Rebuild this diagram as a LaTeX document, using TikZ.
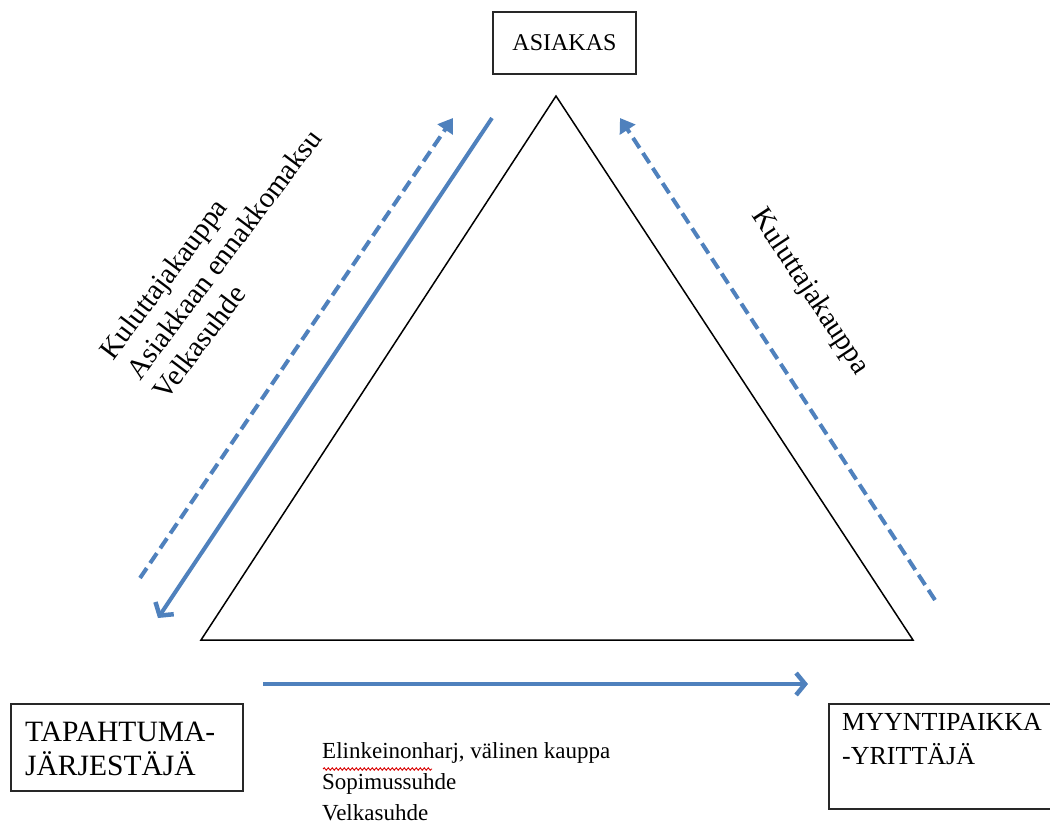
\documentclass[tikz,border=0pt]{standalone}
\usepackage{fontspec}
\setmainfont{Liberation Serif}
\usetikzlibrary{arrows.meta,decorations.pathmorphing}
\definecolor{arrowblue}{RGB}{79,129,189}
\definecolor{boxline}{RGB}{40,40,40}
\begin{document}
\begin{tikzpicture}[x=1pt,y=-1pt,
  box/.style={draw=boxline,line width=1.8pt,rectangle,inner sep=0pt},
  flow/.style={draw=arrowblue,line width=4pt},
  flowdash/.style={flow,dash pattern=on 12pt off 6pt},
  solidtip/.style={-{Straight Barb[length=9pt,width=22pt,line width=4.5pt]}},
  dashtip/.style={-{Triangle[length=14pt,width=18pt]}},
  lbl/.style={inner sep=0pt,align=left},
  rot/.style={inner sep=0pt,font=\fontsize{29}{33.5}\selectfont}]
\useasboundingbox (0,0) rectangle (1050,831);
\clip (0,0) rectangle (1050,831);
\fill[white] (0,0) rectangle (1050,831);

% boxes
\node[box,minimum width=143pt,minimum height=62pt,font=\fontsize{24}{28}\selectfont] (asiakas) at (564.5,43) {ASIAKAS};
\node[box,anchor=north west,minimum width=232pt,minimum height=87pt] (tapbox) at (10,703) {};
\node[lbl,anchor=west,font=\fontsize{29.5}{34}\selectfont] (taptext) at ([xshift=15pt,yshift=-1pt]tapbox.west) {TAPAHTUMA-\\JÄRJESTÄJÄ};
\node[box,anchor=north west,minimum width=230pt,minimum height=105pt] (myybox) at (828,703) {};
\node[lbl,anchor=north west,font=\fontsize{26}{34}\selectfont] (myytext) at (842,713) {MYYNTIPAIKKA\\-YRITTÄJÄ};

% triangle
\coordinate (apex) at (556,96);
\coordinate (bl) at (201,640);
\coordinate (br) at (913,640);
\draw[black,line width=1.5pt,line join=miter] (apex) -- (bl) -- (br) -- cycle;

% arrows
\coordinate (ldA) at (140,578);
\coordinate (ldB) at (453,118);
\coordinate (lsA) at (492,118);
\coordinate (lsB) at (158,618);
\coordinate (rdA) at (935,600);
\coordinate (rdB) at (620,118);
\coordinate (bA) at (263,684);
\coordinate (bB) at (808,684);
\draw[flowdash,dashtip] (ldA) -- (ldB);
\draw[flow,solidtip] (lsA) -- (lsB);
\draw[flowdash,dashtip] (rdA) -- (rdB);
\draw[flow,solidtip] (bA) -- (bB);

% labels
\node[rot,align=left,rotate=53,anchor=north west] (lefttext) at (97,349) {Kuluttajakauppa\\Asiakkaan ennakkomaksu\\Velkasuhde};
\node[rot,rotate=-56.5] (righttext) at (810,292) {Kuluttajakauppa};
\node[lbl,anchor=north west,font=\fontsize{23}{31}\selectfont] (bottomtext) at (322,742) {Elinkeinonharj, välinen kauppa\\Sopimussuhde\\Velkasuhde};

% spelling squiggle
\coordinate (sqA) at (323,769);
\coordinate (sqB) at (432,769);
\draw[red!85!black,line width=0.9pt,decorate,decoration={snake,amplitude=1.2pt,segment length=4pt}] (sqA) -- (sqB);
\end{tikzpicture}
\end{document}
